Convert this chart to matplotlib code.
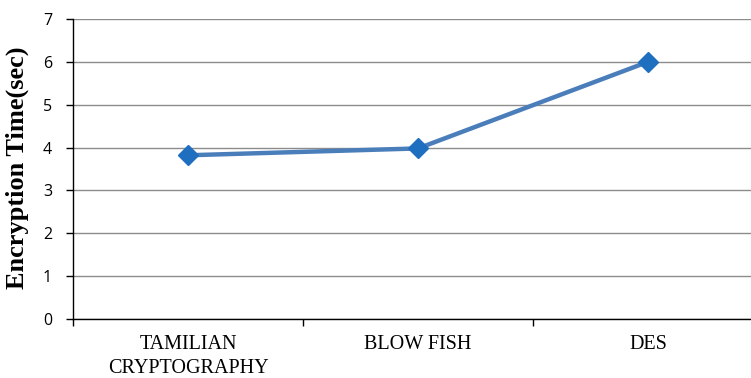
import matplotlib
matplotlib.use("Agg")
import matplotlib.pyplot as plt

categories = ["TAMILIAN\nCRYPTOGRAPHY", "BLOW FISH", "DES"]
values = [3.82, 3.98, 6.0]
yticks = [0, 1, 2, 3, 4, 5, 6, 7]

fig = plt.figure(figsize=(7.51, 3.78), dpi=100)
W, H = 751, 378
left, right, top, bottom = 73, 763, 19, 319
ax = fig.add_axes([left / W, 1 - bottom / H, (right - left) / W, (bottom - top) / H])

x = list(range(len(categories)))
ax.plot(x, values, color="#4a7ebb", lw=3.2, marker="D", markersize=10,
        markerfacecolor="#1f6fc0", markeredgecolor="#1f6fc0", zorder=3,
        solid_capstyle="round")

ax.set_xlim(-0.5, len(categories) - 0.5)
ax.set_ylim(0, 7)
ax.set_yticks(yticks)
ax.set_yticklabels([str(v) for v in yticks], fontfamily="Open Sans", fontsize=11.5)
ax.set_xticks(x)
ax.set_xticklabels(categories, fontfamily="Liberation Serif", fontsize=14.5, linespacing=1.38)
ax.set_xticks([i - 0.5 for i in range(len(categories) + 1)], minor=True)
ax.tick_params(axis="x", which="major", length=0, pad=11.5)
ax.tick_params(axis="x", which="minor", length=5, width=1, color="black")
ax.tick_params(axis="y", length=5, width=1, color="black", pad=10)

ax.grid(axis="y", color="#8c8c8c", lw=1)
ax.set_axisbelow(True)
for s in ["top", "right"]:
    ax.spines[s].set_visible(False)
ax.spines["left"].set_color("black")
ax.spines["bottom"].set_color("black")
ax.spines["left"].set_linewidth(1)
ax.spines["bottom"].set_linewidth(1)

fig.text(17 / W, 1 - 168 / H, "Encryption Time(sec)", rotation=90, ha="center", va="center",
         fontfamily="Liberation Serif", fontweight="bold", fontsize=19)

fig.savefig("out.png", dpi=100)
